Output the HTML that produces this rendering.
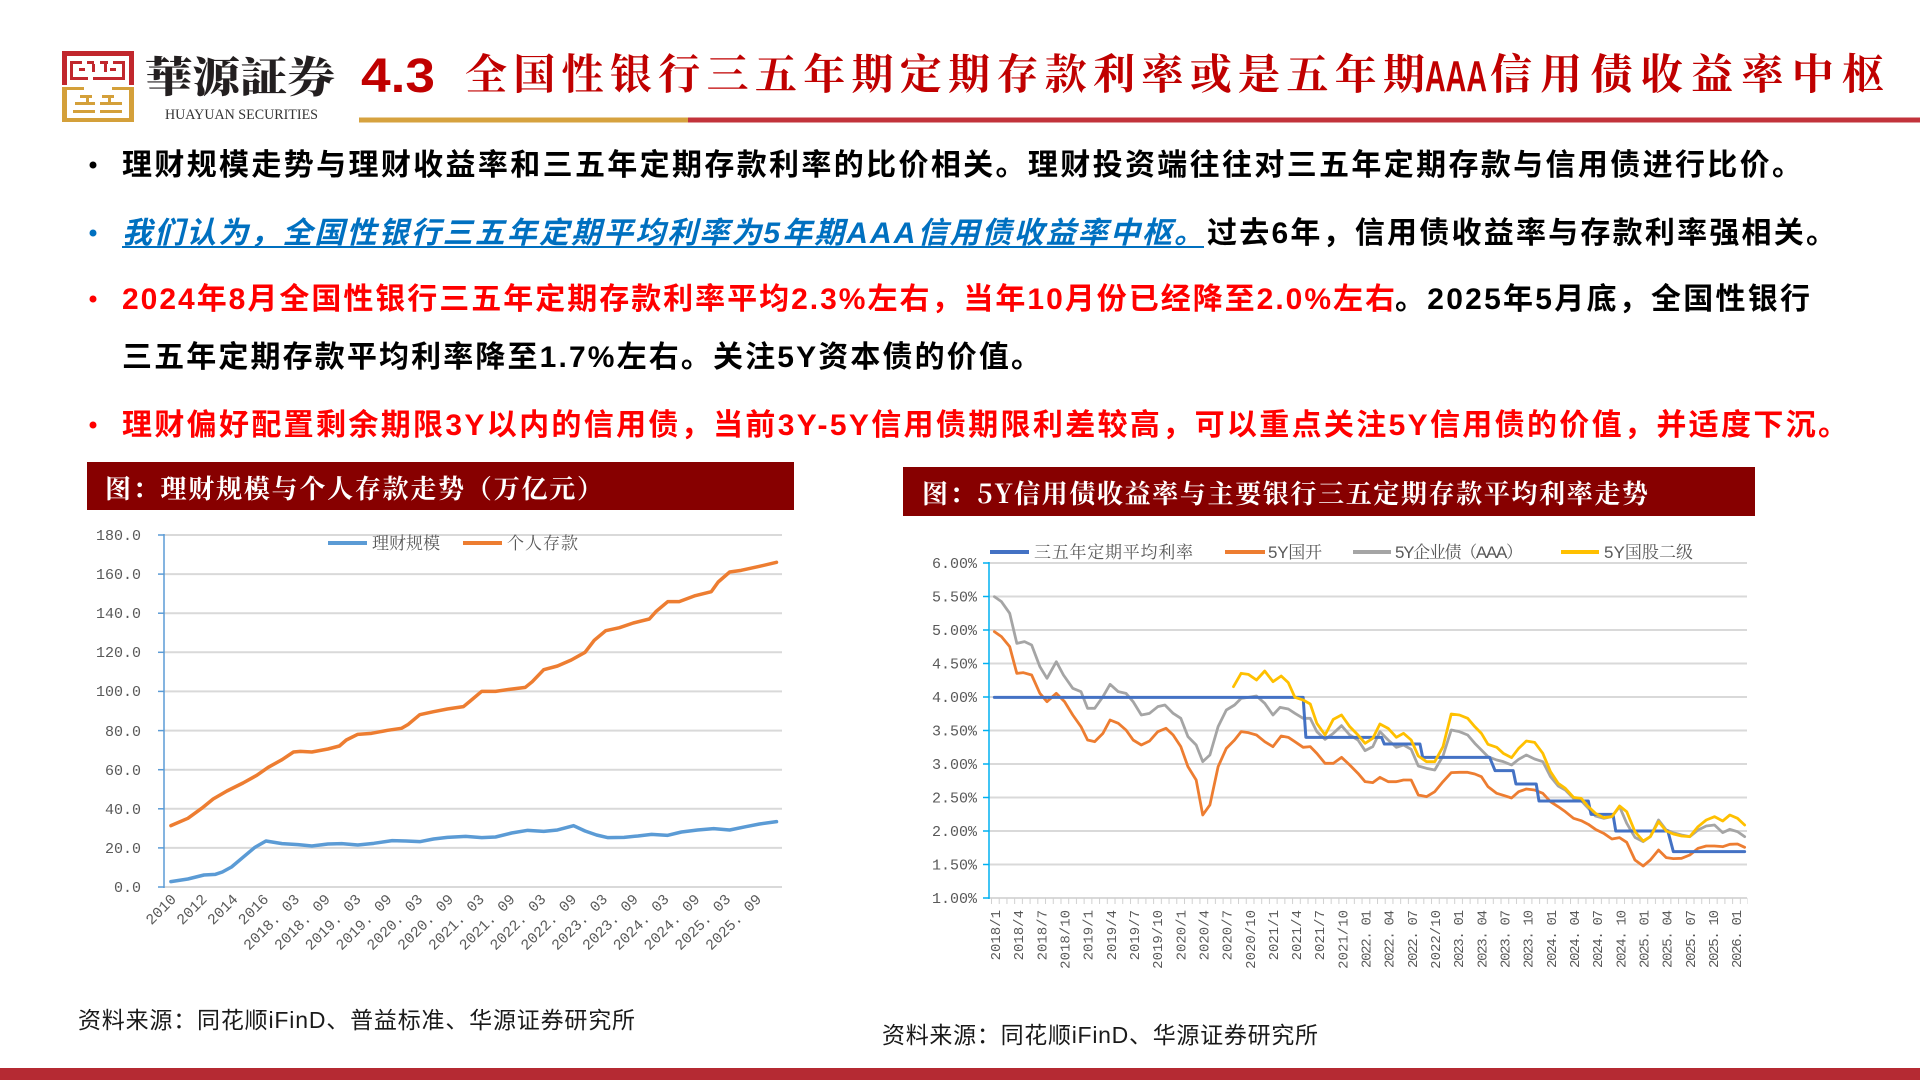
<!DOCTYPE html>
<html><head><meta charset="utf-8">
<style>
html,body{margin:0;padding:0;background:#fff;}
svg{display:block;}
.b{font-family:"Liberation Sans","Noto Sans CJK SC",sans-serif;font-weight:bold;font-size:30px;}
.ax{font-family:"Liberation Mono","Noto Sans CJK SC",monospace;font-size:15px;fill:#595959;}
.lg{font-family:"Liberation Sans","Noto Serif CJK SC",serif;font-size:17px;fill:#595959;}
.tt{font-family:"Noto Serif CJK SC","Liberation Serif",serif;font-weight:bold;font-size:26px;fill:#fff;}
.src{font-family:"Liberation Sans","Noto Sans CJK SC",sans-serif;font-size:23px;fill:#1a1a1a;}
</style></head>
<body>
<svg width="1920" height="1080" viewBox="0 0 1920 1080" xmlns="http://www.w3.org/2000/svg">
<defs>
<pattern id="tk" x="991" y="898" width="7.72" height="6" patternUnits="userSpaceOnUse"><rect x="0" y="0" width="1" height="6" fill="#d0d0d0"/></pattern>
</defs>
<rect width="1920" height="1080" fill="#fff"/>

<!-- LOGO -->
<g fill="#C1272D">
<rect x="62" y="51" width="72" height="5"/>
<rect x="62" y="51" width="5" height="34"/>
<rect x="129" y="51" width="5" height="34"/>
<rect x="70" y="61" width="12" height="3"/><rect x="87" y="61" width="7" height="3"/><rect x="100" y="61" width="8" height="3"/><rect x="113" y="61" width="12" height="3"/>
<rect x="70" y="61" width="3" height="19"/><rect x="122" y="61" width="3" height="19"/>
<rect x="92" y="64" width="3" height="8"/><rect x="104" y="64" width="3" height="8"/>
<rect x="79" y="68" width="6" height="3"/><rect x="110" y="68" width="6" height="3"/>
<rect x="70" y="77" width="18" height="3"/><rect x="93" y="77" width="32" height="3"/>
</g>
<g fill="#D4A03A">
<rect x="62" y="87" width="5" height="35"/><rect x="129" y="87" width="5" height="35"/><rect x="62" y="118" width="72" height="4"/>
<rect x="62" y="87" width="22" height="3"/><rect x="112" y="87" width="22" height="3"/>
<rect x="80" y="95" width="12" height="3"/><rect x="102" y="95" width="12" height="3"/>
<rect x="86" y="95" width="3" height="10"/><rect x="108" y="95" width="3" height="10"/>
<rect x="75" y="102" width="20" height="3"/><rect x="100" y="102" width="22" height="3"/>
<rect x="73" y="110" width="22" height="3"/><rect x="100" y="110" width="22" height="3"/>
</g>
<text x="145" y="92" textLength="190" lengthAdjust="spacingAndGlyphs" style="font-family:'Noto Serif CJK TC','Noto Serif CJK SC',serif;font-weight:900;font-size:42px;fill:#231f20;">華源証券</text>
<text x="165" y="119" textLength="153" lengthAdjust="spacingAndGlyphs" style="font-family:'Liberation Serif',serif;font-size:15px;fill:#333;">HUAYUAN SECURITIES</text>

<!-- TITLE -->
<text x="361" y="92" textLength="74" lengthAdjust="spacingAndGlyphs" style="font-family:'Liberation Sans',sans-serif;font-weight:bold;font-size:48px;fill:#C00000;">4.3</text>
<text x="465" y="89" textLength="960" lengthAdjust="spacing" style="font-family:'Noto Serif CJK SC',serif;font-weight:bold;font-size:42px;fill:#C00000;">全国性银行三五年期定期存款利率或是五年期</text>
<text x="1425" y="91" textLength="62" lengthAdjust="spacingAndGlyphs" style="font-family:'Liberation Sans',sans-serif;font-weight:bold;font-size:44px;fill:#C00000;">AAA</text>
<text x="1490" y="89" textLength="394" lengthAdjust="spacing" style="font-family:'Noto Serif CJK SC',serif;font-weight:bold;font-size:42px;fill:#C00000;">信用债收益率中枢</text>
<rect x="359" y="117.5" width="329" height="5" fill="#D6A23F"/>
<rect x="688" y="117.5" width="1232" height="5" fill="#C2333B"/>

<!-- BULLETS -->
<circle cx="93" cy="165" r="3.5" fill="#000"/>
<circle cx="93" cy="233" r="3.5" fill="#0070C0"/>
<circle cx="93" cy="299" r="3.5" fill="#FF0000"/>
<circle cx="93" cy="425" r="3.5" fill="#FF0000"/>

<text class="b" x="122" y="175" textLength="1680" lengthAdjust="spacing" fill="#000">理财规模走势与理财收益率和三五年定期存款利率的比价相关。理财投资端往往对三五年定期存款与信用债进行比价。</text>

<text class="b" x="122" y="243" textLength="1082" lengthAdjust="spacing" fill="#0070C0" font-style="italic">我们认为，全国性银行三五年定期平均利率为5年期AAA信用债收益率中枢。</text>
<rect x="122" y="246" width="1082" height="2" fill="#0070C0"/>
<text class="b" x="1207" y="243" textLength="629" lengthAdjust="spacing" fill="#000">过去6年，信用债收益率与存款利率强相关。</text>

<text class="b" x="122" y="309" textLength="1273" lengthAdjust="spacing" fill="#FF0000">2024年8月全国性银行三五年定期存款利率平均2.3%左右，当年10月份已经降至2.0%左右</text>
<text class="b" x="1395" y="309" textLength="415" lengthAdjust="spacing" fill="#000">。2025年5月底，全国性银行</text>

<text class="b" x="122" y="367" textLength="919" lengthAdjust="spacing" fill="#000">三五年定期存款平均利率降至1.7%左右。关注5Y资本债的价值。</text>

<text class="b" x="122" y="435" textLength="1726" lengthAdjust="spacing" fill="#FF0000">理财偏好配置剩余期限3Y以内的信用债，当前3Y-5Y信用债期限利差较高，可以重点关注5Y信用债的价值，并适度下沉。</text>

<!-- LEFT CHART -->
<rect x="87" y="462" width="707" height="48" fill="#870000"/>
<text class="tt" x="105" y="498" textLength="498" lengthAdjust="spacing">图：理财规模与个人存款走势（万亿元）</text>

<g stroke="#d9d9d9" stroke-width="2">
<line x1="164" y1="535" x2="782" y2="535"/>
<line x1="164" y1="574.1" x2="782" y2="574.1"/>
<line x1="164" y1="613.2" x2="782" y2="613.2"/>
<line x1="164" y1="652.3" x2="782" y2="652.3"/>
<line x1="164" y1="691.4" x2="782" y2="691.4"/>
<line x1="164" y1="730.6" x2="782" y2="730.6"/>
<line x1="164" y1="769.7" x2="782" y2="769.7"/>
<line x1="164" y1="808.8" x2="782" y2="808.8"/>
<line x1="164" y1="847.9" x2="782" y2="847.9"/>
<line x1="164" y1="887" x2="782" y2="887"/>
</g>
<g stroke="#5B9BD5" stroke-width="1.5">
<line x1="164" y1="534" x2="164" y2="888"/>
<line x1="158" y1="535" x2="164" y2="535"/>
<line x1="158" y1="574.1" x2="164" y2="574.1"/>
<line x1="158" y1="613.2" x2="164" y2="613.2"/>
<line x1="158" y1="652.3" x2="164" y2="652.3"/>
<line x1="158" y1="691.4" x2="164" y2="691.4"/>
<line x1="158" y1="730.6" x2="164" y2="730.6"/>
<line x1="158" y1="769.7" x2="164" y2="769.7"/>
<line x1="158" y1="808.8" x2="164" y2="808.8"/>
<line x1="158" y1="847.9" x2="164" y2="847.9"/>
<line x1="158" y1="887" x2="164" y2="887"/>
</g>
<g class="ax" text-anchor="end">
<text x="141" y="540">180.0</text>
<text x="141" y="579">160.0</text>
<text x="141" y="618">140.0</text>
<text x="141" y="657">120.0</text>
<text x="141" y="696">100.0</text>
<text x="141" y="736">80.0</text>
<text x="141" y="775">60.0</text>
<text x="141" y="814">40.0</text>
<text x="141" y="853">20.0</text>
<text x="141" y="892">0.0</text>
</g>
<!-- legend left -->
<line x1="328" y1="543" x2="367" y2="543" stroke="#5B9BD5" stroke-width="4"/>
<text class="lg" x="372" y="549" textLength="68" lengthAdjust="spacing">理财规模</text>
<line x1="463" y1="543" x2="502" y2="543" stroke="#ED7D31" stroke-width="4"/>
<text class="lg" x="507" y="549" textLength="71" lengthAdjust="spacing">个人存款</text>

<g transform="translate(80,455) scale(0.45914,0.33333)" fill="none" stroke-linejoin="round" stroke-linecap="round">
<polyline vector-effect="non-scaling-stroke" stroke="#ED7D31" stroke-width="3.5" points="198,1112 235,1090 265,1060 290,1032 320,1008 355,984 385,961 410,937 440,914 465,891 480,889 505,891 540,882 565,873 580,855 605,838 635,835 670,826 700,820 715,808 740,779 770,770 800,762 835,755 850,738 875,709 905,709 935,703 970,697 985,680 1010,644 1040,633 1070,615 1100,592 1120,556 1145,527 1175,518 1205,504 1240,492 1255,469 1280,440 1305,440 1340,422 1375,410 1390,381 1415,351 1440,346 1480,334 1517,322"/>
<polyline vector-effect="non-scaling-stroke" stroke="#5B9BD5" stroke-width="3.5" points="198,1280 235,1272 270,1260 295,1258 310,1251 330,1236 355,1207 380,1178 405,1158 440,1166 475,1169 505,1173 540,1167 570,1166 605,1170 640,1165 680,1157 710,1158 740,1160 770,1152 800,1147 840,1144 875,1148 905,1146 940,1134 975,1126 1010,1129 1040,1125 1075,1112 1100,1128 1125,1140 1150,1148 1185,1147 1215,1143 1245,1138 1280,1141 1310,1131 1345,1125 1380,1121 1415,1125 1450,1115 1480,1107 1517,1100"/>
</g>

<g class="ax" text-anchor="end">
<text transform="translate(177,900) rotate(-45)">2010</text>
<text transform="translate(207.8,900) rotate(-45)">2012</text>
<text transform="translate(238.6,900) rotate(-45)">2014</text>
<text transform="translate(269.4,900) rotate(-45)">2016</text>
<text transform="translate(300.2,900) rotate(-45)">2018. 03</text>
<text transform="translate(331,900) rotate(-45)">2018. 09</text>
<text transform="translate(361.8,900) rotate(-45)">2019. 03</text>
<text transform="translate(392.6,900) rotate(-45)">2019. 09</text>
<text transform="translate(423.4,900) rotate(-45)">2020. 03</text>
<text transform="translate(454.2,900) rotate(-45)">2020. 09</text>
<text transform="translate(485,900) rotate(-45)">2021. 03</text>
<text transform="translate(515.8,900) rotate(-45)">2021. 09</text>
<text transform="translate(546.6,900) rotate(-45)">2022. 03</text>
<text transform="translate(577.4,900) rotate(-45)">2022. 09</text>
<text transform="translate(608.2,900) rotate(-45)">2023. 03</text>
<text transform="translate(639,900) rotate(-45)">2023. 09</text>
<text transform="translate(669.8,900) rotate(-45)">2024. 03</text>
<text transform="translate(700.6,900) rotate(-45)">2024. 09</text>
<text transform="translate(731.4,900) rotate(-45)">2025. 03</text>
<text transform="translate(762.2,900) rotate(-45)">2025. 09</text>
</g>

<text class="src" x="78" y="1028" textLength="557" lengthAdjust="spacing">资料来源：同花顺iFinD、普益标准、华源证券研究所</text>

<!-- RIGHT CHART -->
<rect x="903" y="467" width="852" height="49" fill="#870000"/>
<text class="tt" x="922" y="503" textLength="726" lengthAdjust="spacing">图：5Y信用债收益率与主要银行三五定期存款平均利率走势</text>

<g stroke="#d9d9d9" stroke-width="2">
<line x1="989" y1="563" x2="1747" y2="563"/>
<line x1="989" y1="596.5" x2="1747" y2="596.5"/>
<line x1="989" y1="630" x2="1747" y2="630"/>
<line x1="989" y1="663.5" x2="1747" y2="663.5"/>
<line x1="989" y1="697" x2="1747" y2="697"/>
<line x1="989" y1="730.5" x2="1747" y2="730.5"/>
<line x1="989" y1="764" x2="1747" y2="764"/>
<line x1="989" y1="797.5" x2="1747" y2="797.5"/>
<line x1="989" y1="831" x2="1747" y2="831"/>
<line x1="989" y1="864.5" x2="1747" y2="864.5"/>
<line x1="989" y1="898" x2="1747" y2="898"/>
</g>
<rect x="991" y="898" width="757" height="6" fill="url(#tk)"/>
<g stroke="#00B0F0" stroke-width="1.5">
<line x1="989" y1="562" x2="989" y2="899"/>
<line x1="983" y1="563" x2="989" y2="563"/>
<line x1="983" y1="596.5" x2="989" y2="596.5"/>
<line x1="983" y1="630" x2="989" y2="630"/>
<line x1="983" y1="663.5" x2="989" y2="663.5"/>
<line x1="983" y1="697" x2="989" y2="697"/>
<line x1="983" y1="730.5" x2="989" y2="730.5"/>
<line x1="983" y1="764" x2="989" y2="764"/>
<line x1="983" y1="797.5" x2="989" y2="797.5"/>
<line x1="983" y1="831" x2="989" y2="831"/>
<line x1="983" y1="864.5" x2="989" y2="864.5"/>
<line x1="983" y1="898" x2="989" y2="898"/>
</g>
<g class="ax" text-anchor="end">
<text x="977" y="568">6.00%</text>
<text x="977" y="601.5">5.50%</text>
<text x="977" y="635">5.00%</text>
<text x="977" y="668.5">4.50%</text>
<text x="977" y="702">4.00%</text>
<text x="977" y="735.5">3.50%</text>
<text x="977" y="769">3.00%</text>
<text x="977" y="802.5">2.50%</text>
<text x="977" y="836">2.00%</text>
<text x="977" y="869.5">1.50%</text>
<text x="977" y="903">1.00%</text>
</g>
<!-- legend right -->
<line x1="990" y1="552" x2="1029" y2="552" stroke="#4472C4" stroke-width="4"/>
<text class="lg" x="1034" y="558" textLength="159" lengthAdjust="spacing">三五年定期平均利率</text>
<line x1="1225" y1="552" x2="1265" y2="552" stroke="#ED7D31" stroke-width="4"/>
<text class="lg" x="1268" y="558" textLength="54" lengthAdjust="spacing">5Y国开</text>
<line x1="1353" y1="552" x2="1391" y2="552" stroke="#A5A5A5" stroke-width="4"/>
<text class="lg" x="1395" y="558" textLength="128" lengthAdjust="spacing">5Y企业债（AAA）</text>
<line x1="1561" y1="552" x2="1599" y2="552" stroke="#FFC000" stroke-width="4"/>
<text class="lg" x="1604" y="558" textLength="89" lengthAdjust="spacing">5Y国股二级</text>

<g transform="translate(900,460) scale(0.54847,0.33333)" fill="none" stroke-linejoin="round" stroke-linecap="round">
<polyline vector-effect="non-scaling-stroke" stroke="#A5A5A5" stroke-width="2.8" points="172,410 185,425 200,460 213,550 227,545 240,555 255,620 268,655 285,605 298,645 315,685 330,695 342,745 355,745 370,710 383,673 398,695 412,700 425,725 440,765 455,760 470,740 483,735 498,760 512,775 525,830 540,855 552,905 565,885 580,800 595,750 610,735 622,715 635,712 650,708 665,730 680,765 693,742 708,747 720,760 735,775 748,775 760,815 775,838 790,820 805,797 820,825 835,840 848,872 862,860 875,815 890,840 905,862 918,855 932,868 945,918 960,925 975,930 990,888 1005,810 1020,815 1035,825 1048,850 1060,870 1072,890 1088,900 1100,905 1115,915 1128,898 1142,885 1157,897 1172,905 1186,950 1200,978 1213,990 1228,1015 1242,1022 1255,1045 1268,1068 1283,1075 1298,1070 1312,1040 1325,1090 1340,1132 1355,1145 1368,1130 1383,1080 1397,1110 1410,1118 1425,1125 1440,1130 1455,1110 1470,1098 1485,1095 1500,1118 1513,1108 1527,1115 1540,1130"/>
<polyline vector-effect="non-scaling-stroke" stroke="#ED7D31" stroke-width="2.8" points="172,515 185,530 200,560 213,640 225,638 240,645 255,700 268,725 285,700 300,725 315,765 330,800 342,840 355,845 370,820 383,780 398,790 412,810 425,840 440,855 455,843 470,815 485,805 498,825 512,860 525,920 540,960 552,1065 565,1035 580,920 595,865 610,840 622,815 635,818 650,825 665,845 680,860 695,828 708,832 720,845 735,862 748,860 760,880 775,910 790,910 805,892 820,915 835,940 848,965 862,968 875,952 890,965 905,965 918,960 932,960 945,1005 960,1010 975,995 990,965 1005,938 1020,937 1035,937 1048,942 1060,950 1072,980 1088,1000 1100,1006 1115,1014 1128,995 1142,987 1157,990 1172,1000 1186,1025 1200,1040 1213,1055 1228,1075 1242,1082 1255,1093 1268,1108 1283,1120 1298,1137 1312,1133 1325,1147 1340,1200 1355,1218 1368,1200 1383,1170 1397,1193 1410,1196 1425,1195 1440,1185 1455,1165 1470,1158 1485,1158 1500,1160 1513,1153 1527,1152 1540,1162"/>
<path vector-effect="non-scaling-stroke" stroke="#4472C4" stroke-width="3" d="M172,712 H735 L740,832 H878 L883,852 H948 L953,892 H1075 L1085,932 H1118 L1123,972 H1160 L1165,1023 H1255 L1260,1063 H1300 L1305,1113 H1400 L1410,1175 H1540"/>
<polyline vector-effect="non-scaling-stroke" stroke="#FFC000" stroke-width="2.8" points="608,680 622,640 635,643 650,660 665,633 680,665 695,648 708,668 720,712 735,720 748,732 760,790 775,825 790,778 805,765 820,800 835,825 848,850 862,835 875,792 890,805 905,832 918,820 932,840 945,888 960,905 975,905 990,860 1005,762 1020,765 1035,775 1048,800 1060,820 1072,853 1088,862 1100,880 1115,893 1128,865 1142,843 1157,847 1172,880 1186,935 1200,970 1213,985 1228,1012 1242,1015 1255,1040 1268,1060 1283,1073 1298,1070 1312,1038 1325,1055 1340,1115 1355,1143 1368,1130 1383,1085 1397,1113 1410,1122 1425,1128 1440,1130 1455,1100 1470,1080 1485,1070 1500,1083 1513,1065 1527,1075 1540,1095"/>
</g>

<g class="ax" text-anchor="end" style="font-size:14px">
<text transform="translate(1000,910) rotate(-90)">2018/1</text>
<text transform="translate(1023.2,910) rotate(-90)">2018/4</text>
<text transform="translate(1046.3,910) rotate(-90)">2018/7</text>
<text transform="translate(1069.5,910) rotate(-90)">2018/10</text>
<text transform="translate(1092.6,910) rotate(-90)">2019/1</text>
<text transform="translate(1115.8,910) rotate(-90)">2019/4</text>
<text transform="translate(1139,910) rotate(-90)">2019/7</text>
<text transform="translate(1162.1,910) rotate(-90)">2019/10</text>
<text transform="translate(1185.3,910) rotate(-90)">2020/1</text>
<text transform="translate(1208.4,910) rotate(-90)">2020/4</text>
<text transform="translate(1231.6,910) rotate(-90)">2020/7</text>
<text transform="translate(1254.8,910) rotate(-90)">2020/10</text>
<text transform="translate(1277.9,910) rotate(-90)">2021/1</text>
<text transform="translate(1301.1,910) rotate(-90)">2021/4</text>
<text transform="translate(1324.2,910) rotate(-90)">2021/7</text>
<text transform="translate(1347.4,910) rotate(-90)">2021/10</text>
<text transform="translate(1370.6,910) rotate(-90)" textLength="58">2022. 01</text>
<text transform="translate(1393.7,910) rotate(-90)" textLength="58">2022. 04</text>
<text transform="translate(1416.9,910) rotate(-90)" textLength="58">2022. 07</text>
<text transform="translate(1440,910) rotate(-90)">2022/10</text>
<text transform="translate(1463.2,910) rotate(-90)" textLength="58">2023. 01</text>
<text transform="translate(1486.4,910) rotate(-90)" textLength="58">2023. 04</text>
<text transform="translate(1509.5,910) rotate(-90)" textLength="58">2023. 07</text>
<text transform="translate(1532.7,910) rotate(-90)" textLength="58">2023. 10</text>
<text transform="translate(1555.8,910) rotate(-90)" textLength="58">2024. 01</text>
<text transform="translate(1579,910) rotate(-90)" textLength="58">2024. 04</text>
<text transform="translate(1602.2,910) rotate(-90)" textLength="58">2024. 07</text>
<text transform="translate(1625.3,910) rotate(-90)" textLength="58">2024. 10</text>
<text transform="translate(1648.5,910) rotate(-90)" textLength="58">2025. 01</text>
<text transform="translate(1671.6,910) rotate(-90)" textLength="58">2025. 04</text>
<text transform="translate(1694.8,910) rotate(-90)" textLength="58">2025. 07</text>
<text transform="translate(1718,910) rotate(-90)" textLength="58">2025. 10</text>
<text transform="translate(1741.1,910) rotate(-90)" textLength="58">2026. 01</text>
</g>

<text class="src" x="882" y="1043" textLength="436" lengthAdjust="spacing">资料来源：同花顺iFinD、华源证券研究所</text>

<!-- bottom bar -->
<rect x="0" y="1068" width="1920" height="12" fill="#B52A33"/>
</svg>
</body></html>
